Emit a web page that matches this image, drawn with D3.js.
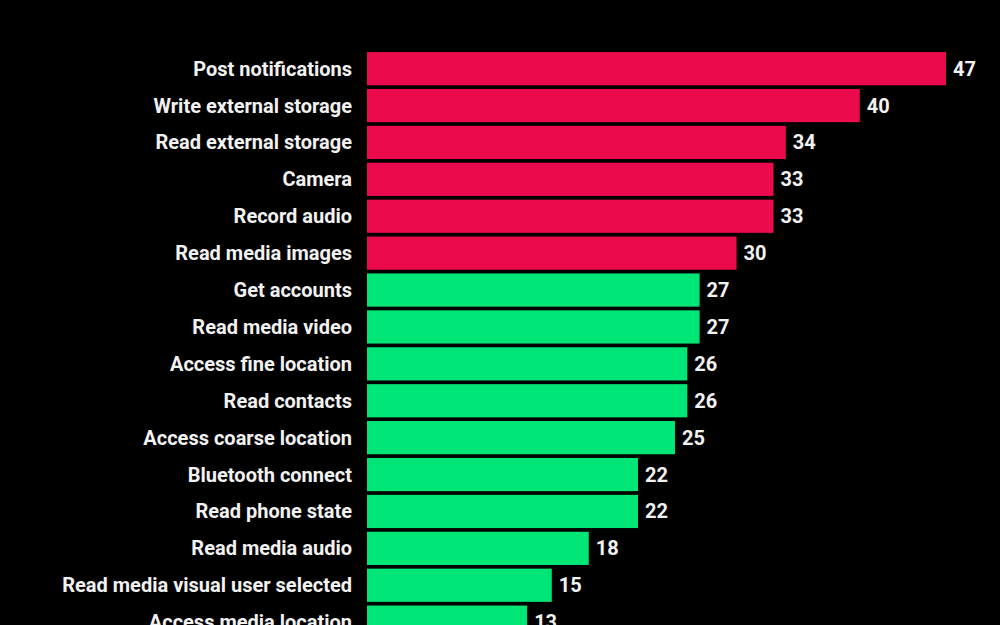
<!DOCTYPE html>
<html>
<head>
<meta charset="utf-8">
<script src="https://cdn.jsdelivr.net/npm/d3@7"></script>
<style>
  html, body { margin: 0; padding: 0; background: #000; }
  svg { display: block; }
  .label { fill: #f2f2f2; font-family: Roboto, sans-serif; font-weight: 700; font-size: 20px; }
  .value { fill: #f2f2f2; font-family: Roboto, sans-serif; font-weight: 700; font-size: 20px; }
</style>
</head>
<body>
<div id="chart"></div>
<script>
const permissions = [
  "Post notifications", "Write external storage", "Read external storage", "Camera",
  "Record audio", "Read media images", "Get accounts", "Read media video",
  "Access fine location", "Read contacts", "Access coarse location", "Bluetooth connect",
  "Read phone state", "Read media audio", "Read media visual user selected", "Access media location"
];
const counts = [47, 40, 34, 33, 33, 30, 27, 27, 26, 26, 25, 22, 22, 18, 15, 13];
const highRisk = [true, true, true, true, true, true, false, false, false, false, false, false, false, false, false, false];

const width = 1000, height = 625;
const x0 = 367;

const svg = d3.select("#chart").append("svg")
  .attr("width", width)
  .attr("height", height);

svg.append("rect").attr("width", width).attr("height", height).attr("fill", "#000");

const x = d3.scaleLinear()
  .domain([0, 47])
  .range([x0, 946]);

const y = d3.scaleBand()
  .domain(permissions)
  .range([50.2, 50.2 + permissions.length * 36.9])
  .paddingInner(0.1)
  .paddingOuter(0.05);

const rows = svg.selectAll(".row")
  .data(permissions)
  .enter().append("g")
  .attr("class", "row");

rows.append("rect")
  .attr("x", x(0))
  .attr("y", d => y(d))
  .attr("width", (d, i) => x(counts[i]) - x(0))
  .attr("height", y.bandwidth())
  .attr("fill", (d, i) => highRisk[i] ? "#eb0a4c" : "#00e676");

rows.append("text")
  .attr("class", "label")
  .attr("x", x(0) - 15)
  .attr("y", d => y(d) + y.bandwidth() / 2)
  .attr("dy", "0.35em")
  .attr("text-anchor", "end")
  .text(d => d);

rows.append("text")
  .attr("class", "value")
  .attr("x", (d, i) => x(counts[i]) + 7)
  .attr("y", d => y(d) + y.bandwidth() / 2)
  .attr("dy", "0.35em")
  .text((d, i) => counts[i]);
</script>
</body>
</html>
